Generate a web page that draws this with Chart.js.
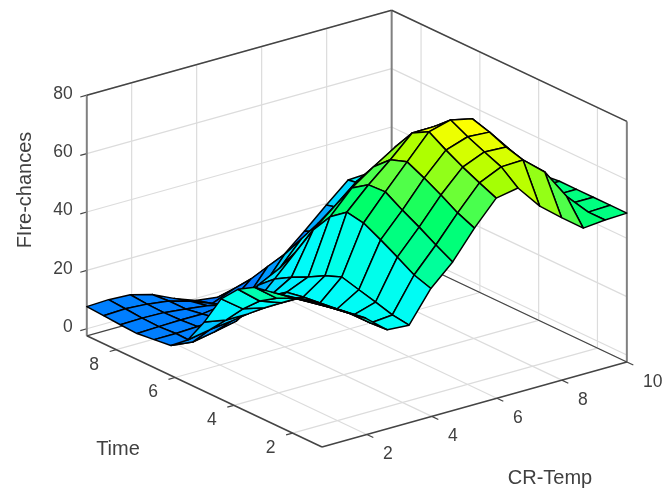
<!DOCTYPE html>
<html>
<head>
<meta charset="utf-8">
<style>
  html, body { margin: 0; padding: 0; background: #fff; }
  canvas { display: block; filter: blur(0.6px); }
</style>
<script src="https://cdn.jsdelivr.net/npm/chart.js@4/dist/chart.umd.min.js"></script>
</head>
<body>
<canvas id="chart" width="666" height="493"></canvas>
<script>
// CR-Temp values (columns of the surface)
const tempValues = [0.62, 1.29, 1.96, 2.63, 3.3, 3.97, 4.64, 5.31, 5.98, 6.65, 7.32, 7.99, 8.66, 9.33, 10];
// Time values (rows of the surface)
const timeValues = [1, 1.57, 2.14, 2.71, 3.29, 3.86, 4.43, 5, 5.57, 6.14, 6.71, 7.29, 7.86, 8.43, 9];
// Fire-chances, one row per time value
const fireChances = [
  [46.2, 42.1, 37.6, 31.5, 31, 41.5, 48.5, 58, 66.2, 67.6, 59.3, 53.3, 47.6, 48.3, 48.6],
  [45.2, 40.9, 36.6, 31.1, 31.8, 43.4, 51.6, 60.5, 68.7, 72.1, 72.4, 66.2, 55.8, 48.3, 48.6],
  [43.8, 39.7, 35.6, 31.2, 33.5, 46.8, 55, 63.9, 71.4, 74.5, 74.1, 66, 58, 48.6, 48.6],
  [42.5, 38.4, 34.6, 30.5, 35, 50, 58.1, 67, 74.5, 77, 76.5, 68, 58, 48.6, 48.6],
  [41.4, 35.6, 33.6, 29.8, 36.6, 53, 61.6, 69.8, 78, 80, 78.3, 70, 58, 48.5, 48.6],
  [38, 31.9, 29.2, 29.1, 34.3, 54, 61.3, 67.8, 74.9, 75, 74, 67, 57, 47.5, 48],
  [32, 26.5, 24.8, 28, 31.2, 49.7, 57.5, 62.7, 67.4, 70.5, 70, 63, 55, 46, 47],
  [21.4, 20, 20, 24, 28.4, 42.5, 48.7, 55, 58, 61, 62, 57, 52, 44, 45],
  [12.5, 13.9, 14.8, 18, 25.1, 32.6, 40, 44, 48, 50, 52, 50, 47, 42, 43],
  [7.9, 7, 8.4, 10, 20.2, 24, 32, 33, 38, 40, 42, 42, 41, 39, 40],
  [7.2, 7.2, 7.5, 8, 12, 15, 24, 26, 29, 31, 33, 34, 36, 36, 37],
  [6.5, 6.8, 7, 7, 8, 8, 17, 18, 21, 23, 26, 28, 31, 33, 34],
  [6.8, 7, 6.8, 6, 5, 3.5, 10, 10, 13, 15, 20, 24, 28, 30, 31],
  [7.2, 7.5, 7, 6, 3.8, 1, 4, 4, 6, 9, 15, 21, 27, 28, 29],
  [7.6, 7.9, 7.5, 5.5, 2.1, -0.7, -1.7, -1.9, 0.8, 6.2, 12.7, 19.5, 26, 26.4, 27]
];
const tempTicks = [2, 4, 6, 8, 10];
const timeTicks = [2, 4, 6, 8];
const fireTicks = [0, 20, 40, 60, 80];

// axis limits of the box
const xLim = [0.62, 10];
const yLim = [1, 9];
const zLim = [-2.4, 80];

// colormap: z value -> rgb
const mapZ = [-3, 8, 14, 20, 28, 36, 40, 44, 48, 55, 59, 64, 68, 72, 76, 79];
const mapRgb = [
  [0, 110, 255], [0, 128, 255], [0, 170, 255], [0, 215, 255], [0, 250, 255],
  [0, 255, 230], [0, 255, 170], [0, 255, 145], [0, 255, 130], [0, 255, 100], [70, 255, 80],
  [130, 255, 40], [170, 255, 0], [205, 255, 0], [235, 255, 0], [255, 255, 0]
];

function colorFor(z) {
  let k = 0;
  while (k < mapZ.length - 2 && z > mapZ[k + 1]) k++;
  const t = Math.max(0, Math.min(1, (z - mapZ[k]) / (mapZ[k + 1] - mapZ[k])));
  const c = mapRgb[k].map((v, n) => Math.round(v + (mapRgb[k + 1][n] - v) * t));
  return `rgb(${c[0]},${c[1]},${c[2]})`;
}

// the view of the 3D box: fixed orthographic projection on to the x/y scales
function project(x, y, z) {
  const u = x - xLim[0];
  const v = y - yLim[0];
  return {
    x: 322 + 32.5 * u - 29.4 * v,
    y: 447 - 9.06 * u - 13.9 * v - 2.92 * (z - zLim[0])
  };
}

const datasets = [];

// surface cells, nearest first: Chart.js paints the first dataset last
for (let i = 0; i < timeValues.length - 1; i++) {
  for (let j = 0; j < tempValues.length - 1; j++) {
    const a = project(tempValues[j], timeValues[i], fireChances[i][j]);
    const b = project(tempValues[j + 1], timeValues[i], fireChances[i][j + 1]);
    const c = project(tempValues[j + 1], timeValues[i + 1], fireChances[i + 1][j + 1]);
    const d = project(tempValues[j], timeValues[i + 1], fireChances[i + 1][j]);
    datasets.push({
      data: [a, b, c, d, a],
      showLine: true,
      pointRadius: 0,
      tension: 0,
      fill: "shape",
      clip: false,
      backgroundColor: colorFor((fireChances[i][j] + fireChances[i + 1][j]) / 2),
      borderColor: "#000",
      borderWidth: 1.5,
      borderJoinStyle: "round"
    });
  }
}

function addLine(from, to, color, width) {
  datasets.push({
    data: [project(from[0], from[1], from[2]), project(to[0], to[1], to[2])],
    showLine: true,
    pointRadius: 0,
    fill: false,
    clip: false,
    borderColor: color,
    borderWidth: width
  });
}

const axisDark = "#444";
const axisGray = "#808080";
const gridGray = "#dcdcdc";

// box edges and tick stubs
addLine([xLim[0], yLim[0], zLim[0]], [xLim[1], yLim[0], zLim[0]], axisDark, 1.6);
addLine([xLim[0], yLim[0], zLim[0]], [xLim[0], yLim[1], zLim[0]], axisDark, 1.6);
addLine([xLim[0], yLim[1], zLim[0]], [xLim[1], yLim[1], zLim[0]], axisDark, 1.2);
addLine([xLim[1], yLim[0], zLim[0]], [xLim[1], yLim[1], zLim[0]], axisDark, 1.2);
addLine([xLim[0], yLim[1], zLim[1]], [xLim[1], yLim[1], zLim[1]], axisDark, 1.5);
addLine([xLim[1], yLim[1], zLim[1]], [xLim[1], yLim[0], zLim[1]], axisDark, 1.5);
addLine([xLim[0], yLim[1], zLim[0]], [xLim[0], yLim[1], zLim[1]], axisGray, 2);
addLine([xLim[1], yLim[1], zLim[0]], [xLim[1], yLim[1], zLim[1]], axisGray, 2);
addLine([xLim[1], yLim[0], zLim[0]], [xLim[1], yLim[0], zLim[1]], axisGray, 2);

tempTicks.forEach(t => addLine([t, yLim[0], zLim[0]], [t, yLim[0] - 0.22, zLim[0]], axisDark, 1.2));
timeTicks.forEach(t => addLine([xLim[0], t, zLim[0]], [xLim[0] - 0.2, t, zLim[0]], axisDark, 1.2));
fireTicks.forEach(t => addLine([xLim[0], yLim[1], t], [xLim[0] - 0.2, yLim[1], t], axisDark, 1.2));

// grid on the floor and the two back walls
tempTicks.forEach(t => {
  addLine([t, yLim[0], zLim[0]], [t, yLim[1], zLim[0]], gridGray, 1.2);
  addLine([t, yLim[1], zLim[0]], [t, yLim[1], zLim[1]], gridGray, 1.2);
});
timeTicks.forEach(t => {
  addLine([xLim[0], t, zLim[0]], [xLim[1], t, zLim[0]], gridGray, 1.2);
  addLine([xLim[1], t, zLim[0]], [xLim[1], t, zLim[1]], gridGray, 1.2);
});
fireTicks.forEach(t => {
  addLine([xLim[0], yLim[1], t], [xLim[1], yLim[1], t], gridGray, 1.2);
  addLine([xLim[1], yLim[1], t], [xLim[1], yLim[0], t], gridGray, 1.2);
});

const axisText = {
  id: "axisText",
  afterDraw(chart) {
    const ctx = chart.ctx;
    const sx = chart.scales.x;
    const sy = chart.scales.y;
    const put = (text, p, dx, dy, align) => {
      ctx.textAlign = align || "center";
      ctx.fillText(text, sx.getPixelForValue(p.x) + dx, sy.getPixelForValue(p.y) + dy);
    };
    ctx.save();
    ctx.fillStyle = "#404040";
    ctx.textBaseline = "middle";
    ctx.font = "17.5px 'Liberation Sans', Arial, sans-serif";
    tempTicks.forEach(t => put(String(t), project(t, yLim[0], zLim[0]), t === 10 ? 26 : 21, 20));
    timeTicks.forEach(t => put(String(t), project(xLim[0], t, zLim[0]), -22, 15));
    fireTicks.forEach(t => put(String(t), project(xLim[0], yLim[1], t), -14, -1.5, "right"));

    ctx.font = "20px 'Liberation Sans', Arial, sans-serif";
    ctx.textAlign = "center";
    ctx.fillText("Time", 118, 449);
    ctx.fillText("CR-Temp", 550, 478);
    ctx.translate(25, 190);
    ctx.rotate(-Math.PI / 2);
    ctx.fillText("FIre-chances", 0, 0);
    ctx.restore();
  }
};

new Chart(document.getElementById("chart").getContext("2d"), {
  type: "scatter",
  data: { datasets },
  plugins: [axisText],
  options: {
    responsive: false,
    animation: false,
    layout: { padding: 0 },
    plugins: {
      legend: { display: false },
      tooltip: { enabled: false },
      filler: { propagate: false }
    },
    scales: {
      x: { type: "linear", min: 0, max: 666, display: false },
      y: { type: "linear", min: 0, max: 493, reverse: true, display: false }
    }
  }
});
</script>
</body>
</html>
